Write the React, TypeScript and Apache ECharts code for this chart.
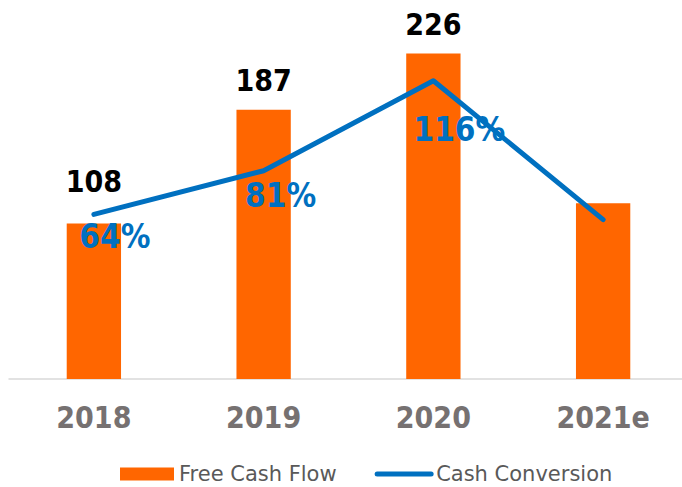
import React, { useEffect, useRef } from "react";
import * as echarts from "echarts";

const categories = ["2018", "2019", "2020", "2021e"];
const freeCashFlow = [108, 187, 226, 122];
const cashConversion = [0.64, 0.81, 1.16, 0.62];
const showBarLabel = [true, true, true, false];
const showLineLabel = [true, true, true, false];

const BOLD = "'DejaVu Sans Condensed', 'DejaVu Sans', sans-serif";
const REG = "'DejaVu Sans', sans-serif";

export default function App() {
  const ref = useRef<HTMLDivElement>(null);
  useEffect(() => {
    if (!ref.current) return;
    const chart = echarts.init(ref.current, undefined, { renderer: "svg" });
    const barLabelOffsets = [[0, -13], [0, 0], [0, 0], [0, 0]];
    const lineLabelOffsets = [[21, 0], [17, 3], [26, 27], [0, 0]];
    chart.setOption({
      animation: false,
      grid: { left: 9, width: 679, top: 19, bottom: 108, containLabel: false },
      legend: {
        top: 463,
        left: 120,
        padding: 0,
        itemWidth: 54,
        itemHeight: 13,
        itemGap: 38,
        textStyle: { fontFamily: REG, fontSize: 21, lineHeight: 22, color: "#595959" },
        data: [
          { name: "Free Cash Flow", icon: "rect" },
          {
            name: "Cash Conversion",
            itemStyle: { opacity: 0 },
            lineStyle: { width: 5, color: "#0070C0", cap: "round" },
          },
        ],
      },
      xAxis: {
        type: "category",
        data: categories,
        axisLine: { lineStyle: { color: "#d9d9d9", width: 1.5 } },
        axisTick: { show: false },
        axisLabel: {
          margin: 23,
          fontFamily: BOLD,
          fontWeight: "bold",
          fontSize: 30,
          color: "#767171",
        },
      },
      yAxis: [
        { type: "value", min: 0, max: 250, show: false, splitLine: { show: false } },
        { type: "value", min: 0, max: 1.4, show: false, splitLine: { show: false } },
      ],
      series: [
        {
          name: "Free Cash Flow",
          type: "bar",
          yAxisIndex: 0,
          barWidth: "32%",
          itemStyle: { color: "#FF6600" },
          data: freeCashFlow.map((v, i) => ({
            value: v,
            label: {
              show: showBarLabel[i],
              position: "top",
              distance: 14,
              offset: barLabelOffsets[i],
              fontFamily: BOLD,
              fontWeight: "bold",
              fontSize: 30,
              color: "#000000",
            },
          })),
        },
        {
          name: "Cash Conversion",
          type: "line",
          yAxisIndex: 1,
          symbol: "circle",
          symbolSize: 1,
          showSymbol: true,
          z: 3,
          lineStyle: { color: "#0070C0", width: 5, cap: "round", join: "round" },
          itemStyle: { color: "#0070C0" },
          data: cashConversion.map((v, i) => ({
            value: v,
            label: {
              show: showLineLabel[i],
              position: "bottom",
              distance: 5,
              offset: lineLabelOffsets[i],
              formatter: (p: any) => Math.round(p.value * 100) + "%",
              fontFamily: BOLD,
              fontWeight: "bold",
              fontSize: 33,
              color: "#0070C0",
            },
          })),
        },
      ],
    });
    return () => chart.dispose();
  }, []);
  return (
    <div style={{ width: 682, height: 487, position: "absolute", left: 0, top: 0, overflow: "hidden" }}>
      <div ref={ref} style={{ width: 700, height: 487, position: "absolute", left: 0, top: 0 }} />
    </div>
  );
}
